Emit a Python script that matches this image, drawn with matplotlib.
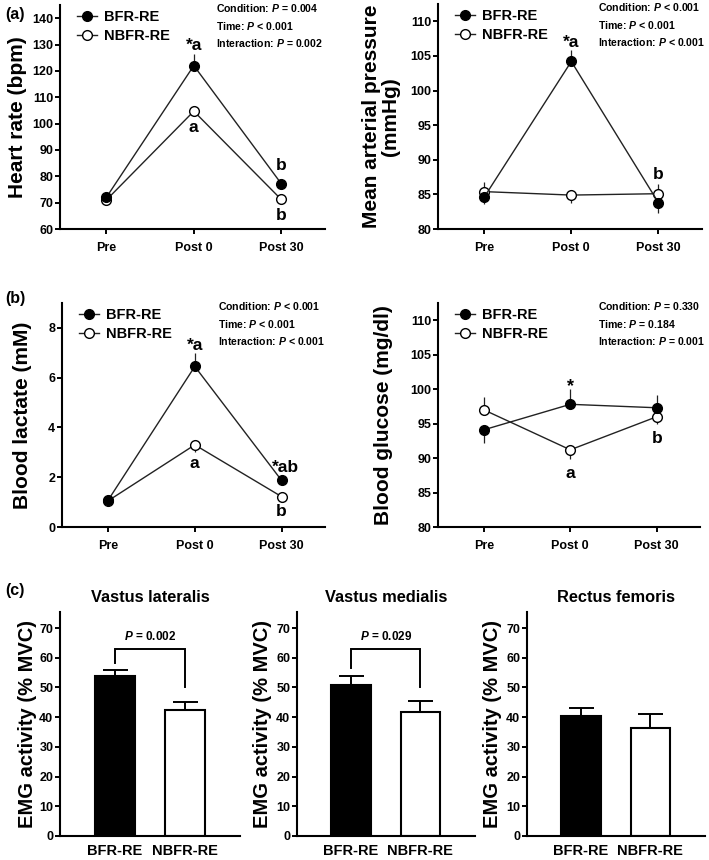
import matplotlib
matplotlib.use("Agg")
import matplotlib.pyplot as plt

plt.rcParams['font.family'] = ['Liberation Sans', 'DejaVu Sans']
plt.rcParams['font.weight'] = 'bold'
plt.rcParams['axes.labelweight'] = 'bold'
plt.rcParams['mathtext.fontset'] = 'custom'
plt.rcParams['mathtext.it'] = 'Liberation Sans:italic:bold'
plt.rcParams['mathtext.rm'] = 'Liberation Sans:bold'

# ---------------- data ----------------
times = ["Pre", "Post 0", "Post 30"]
groups = ["BFR-RE", "NBFR-RE"]

hr_bfr = [72.0, 122.0, 77.2]
hr_bfr_up = [0.8, 4.4, 1.8]
hr_bfr_dn = [0.0, 0.0, 0.0]
hr_nbfr = [71.0, 104.7, 71.2]
hr_nbfr_up = [0.0, 0.0, 0.0]
hr_nbfr_dn = [0.8, 1.5, 0.8]

map_bfr = [84.6, 104.2, 83.8]
map_bfr_up = [0.0, 1.6, 0.0]
map_bfr_dn = [1.0, 0.0, 1.5]
map_nbfr = [85.4, 84.9, 85.1]
map_nbfr_up = [1.4, 0.0, 1.4]
map_nbfr_dn = [0.0, 1.2, 0.0]

lac_bfr = [1.07, 6.45, 1.87]
lac_bfr_up = [0.0, 0.55, 0.1]
lac_bfr_dn = [0.0, 0.0, 0.0]
lac_nbfr = [1.05, 3.30, 1.22]
lac_nbfr_up = [0.0, 0.0, 0.0]
lac_nbfr_dn = [0.05, 0.3, 0.05]

glu_bfr = [94.1, 97.8, 97.3]
glu_bfr_up = [0.0, 2.2, 1.8]
glu_bfr_dn = [1.9, 0.0, 0.0]
glu_nbfr = [97.0, 91.2, 96.0]
glu_nbfr_up = [1.9, 0.0, 0.0]
glu_nbfr_dn = [0.0, 1.4, 1.1]

emg_muscles = ["Vastus lateralis", "Vastus medialis", "Rectus femoris"]
emg_bfr = [53.7, 50.8, 40.3]
emg_bfr_err = [2.1, 3.2, 2.8]
emg_nbfr = [42.5, 41.6, 36.2]
emg_nbfr_err = [2.7, 3.7, 4.8]
emg_p = ["$P$ = 0.002", "$P$ = 0.029", None]

stats_hr = ["Condition: $P$ = 0.004", "Time: $P$ < 0.001", "Interaction: $P$ = 0.002"]
stats_map = ["Condition: $P$ < 0.001", "Time: $P$ < 0.001", "Interaction: $P$ < 0.001"]
stats_lac = ["Condition: $P$ < 0.001", "Time: $P$ < 0.001", "Interaction: $P$ < 0.001"]
stats_glu = ["Condition: $P$ = 0.330", "Time: $P$ = 0.184", "Interaction: $P$ = 0.001"]

# ---------------- layout helpers ----------------
W, H = 709, 860
fig = plt.figure(figsize=(W / 100, H / 100), dpi=100)


def px_axes(l, r, t, b):
    return fig.add_axes([l / W, 1 - b / H, (r - l) / W, (b - t) / H])


def style(ax, spine_w=1.5):
    for s in ["top", "right"]:
        ax.spines[s].set_visible(False)
    for s in ["left", "bottom"]:
        ax.spines[s].set_linewidth(spine_w)
    ax.tick_params(direction="out", length=3.6, width=1.4, labelsize=9, pad=1.2)
    for lab in ax.get_xticklabels() + ax.get_yticklabels():
        lab.set_fontweight("bold")


def line_panel(ax, bfr, bfr_up, bfr_dn, nbfr, nbfr_up, nbfr_dn, ylim, yticks, ylabel,
               stats, stats_x, label_x):
    x = list(range(len(times)))
    ax.errorbar(x, bfr, yerr=[bfr_dn, bfr_up], fmt="none", ecolor="#222222",
                elinewidth=0.9, capsize=0, zorder=2)
    ax.errorbar(x, nbfr, yerr=[nbfr_dn, nbfr_up], fmt="none", ecolor="#222222",
                elinewidth=0.9, capsize=0, zorder=2)
    ax.plot(x, bfr, "-o", color="#222222", lw=1.0, ms=7, mfc="black", mec="black",
            zorder=4, label=groups[0])
    ax.plot(x, nbfr, "-o", color="#222222", lw=1.0, ms=7, mfc="white", mec="black",
            mew=1.0, zorder=3, label=groups[1])
    ax.set_xlim(-0.53, 2.5)
    ax.set_ylim(*ylim)
    ax.set_yticks(yticks)
    ax.set_xticks(x)
    ax.set_xticklabels(times)
    ax.set_ylabel(ylabel, fontsize=15, fontweight="bold", linespacing=1.0)
    ax.yaxis.set_label_coords(label_x, 0.5)
    style(ax)
    ax.tick_params(axis="x", pad=6)
    leg = ax.legend(loc="upper left", bbox_to_anchor=(0.03, 1.015), frameon=False,
                    fontsize=10.5, handlelength=1.4, handletextpad=0.5,
                    labelspacing=0.3, borderaxespad=0.2)
    for t in leg.get_texts():
        t.set_fontweight("bold")
    for i, s in enumerate(stats):
        ax.text(stats_x, 1.012 - i * 0.078, s, transform=ax.transAxes, fontsize=7.6,
                fontweight="bold", ha="left", va="top")


# ---------------- (a) heart rate ----------------
ax1 = px_axes(60, 325, 5, 229)
line_panel(ax1, hr_bfr, hr_bfr_up, hr_bfr_dn, hr_nbfr, hr_nbfr_up, hr_nbfr_dn,
           (60, 145), range(60, 141, 10), "Heart rate (bpm)",
           stats_hr, 0.59, -0.125)
ax1.text(1, 129.5, "*a", ha="center", va="center", fontsize=12.5, fontweight="bold")
ax1.text(1, 98.5, "a", ha="center", va="center", fontsize=12.5, fontweight="bold")
ax1.text(2, 84.0, "b", ha="center", va="center", fontsize=12.5, fontweight="bold")
ax1.text(2, 65.3, "b", ha="center", va="center", fontsize=12.5, fontweight="bold")

# ---------------- (a) MAP ----------------
ax2 = px_axes(438, 702, 4, 229)
line_panel(ax2, map_bfr, map_bfr_up, map_bfr_dn, map_nbfr, map_nbfr_up, map_nbfr_dn,
           (80, 112.5), range(80, 111, 5), "Mean arterial pressure\n(mmHg)",
           stats_map, 0.605, -0.144)
ax2.text(1, 107.0, "*a", ha="center", va="center", fontsize=12.5, fontweight="bold")
ax2.text(2, 87.9, "b", ha="center", va="center", fontsize=12.5, fontweight="bold")

# ---------------- (b) lactate ----------------
ax3 = px_axes(62, 325, 303, 527)
line_panel(ax3, lac_bfr, lac_bfr_up, lac_bfr_dn, lac_nbfr, lac_nbfr_up, lac_nbfr_dn,
           (0, 9.0), range(0, 9, 2), "Blood lactate (mM)",
           stats_lac, 0.595, -0.114)
ax3.text(1, 7.3, "*a", ha="center", va="center", fontsize=12.5, fontweight="bold")
ax3.text(1, 2.57, "a", ha="center", va="center", fontsize=12.5, fontweight="bold")
ax3.text(2.05, 2.4, "*ab", ha="center", va="center", fontsize=12.5, fontweight="bold")
ax3.text(2, 0.64, "b", ha="center", va="center", fontsize=12.5, fontweight="bold")

# ---------------- (b) glucose ----------------
ax4 = px_axes(438, 700, 303, 527)
line_panel(ax4, glu_bfr, glu_bfr_up, glu_bfr_dn, glu_nbfr, glu_nbfr_up, glu_nbfr_dn,
           (80, 112.5), range(80, 111, 5), "Blood glucose (mg/dl)",
           stats_glu, 0.61, -0.172)
ax4.text(1, 100.3, "*", ha="center", va="center", fontsize=13, fontweight="bold")
ax4.text(1, 87.8, "a", ha="center", va="center", fontsize=12.5, fontweight="bold")
ax4.text(2, 92.9, "b", ha="center", va="center", fontsize=12.5, fontweight="bold")

# ---------------- (c) EMG ----------------
bar_axes = [(60, 240), (297, 475), (527, 705)]
bar_label_x = [-0.125, -0.14, -0.14]
bracket_top = 63.0
for k, (l, r) in enumerate(bar_axes):
    ax = px_axes(l, r, 612, 836)
    xs = [0, 1]
    vals = [emg_bfr[k], emg_nbfr[k]]
    errs = [emg_bfr_err[k], emg_nbfr_err[k]]
    ax.bar(xs, vals, width=0.57, color=["black", "white"], edgecolor="black",
           linewidth=1.5, zorder=2)
    ax.errorbar(xs, vals, yerr=[[0, 0], errs], fmt="none", ecolor="black",
                elinewidth=1.4, capsize=9, capthick=1.4, zorder=1)
    ax.set_xlim(-0.78, 1.79)
    ax.set_ylim(0, 75.4)
    ax.set_yticks(range(0, 71, 10))
    ax.set_xticks(xs)
    ax.set_xticklabels(groups)
    style(ax)
    ax.tick_params(axis="x", length=0, labelsize=10.5, pad=6)
    ax.set_ylabel("EMG activity (% MVC)", fontsize=14.5, fontweight="bold")
    ax.yaxis.set_label_coords(bar_label_x[k], 0.5)
    ax.set_title(emg_muscles[k], fontsize=11.8, fontweight="bold", pad=7)
    if emg_p[k] is not None:
        legs = [vals[0] + errs[0] + 2.5, vals[1] + errs[1] + 4.8]
        ax.plot([0, 0, 1, 1], [legs[0], bracket_top, bracket_top, legs[1]],
                color="black", lw=1.4, solid_joinstyle="miter")
        ax.text(0.5, bracket_top + 2.0, emg_p[k], ha="center", va="bottom",
                fontsize=8.5, fontweight="bold")

# panel labels
fig.text(5 / W, 1 - 14 / H, "(a)", fontsize=11.5, fontweight="bold", va="center")
fig.text(5 / W, 1 - 298 / H, "(b)", fontsize=11.5, fontweight="bold", va="center")
fig.text(5 / W, 1 - 590 / H, "(c)", fontsize=11.5, fontweight="bold", va="center")

fig.savefig("out.png", dpi=100)
